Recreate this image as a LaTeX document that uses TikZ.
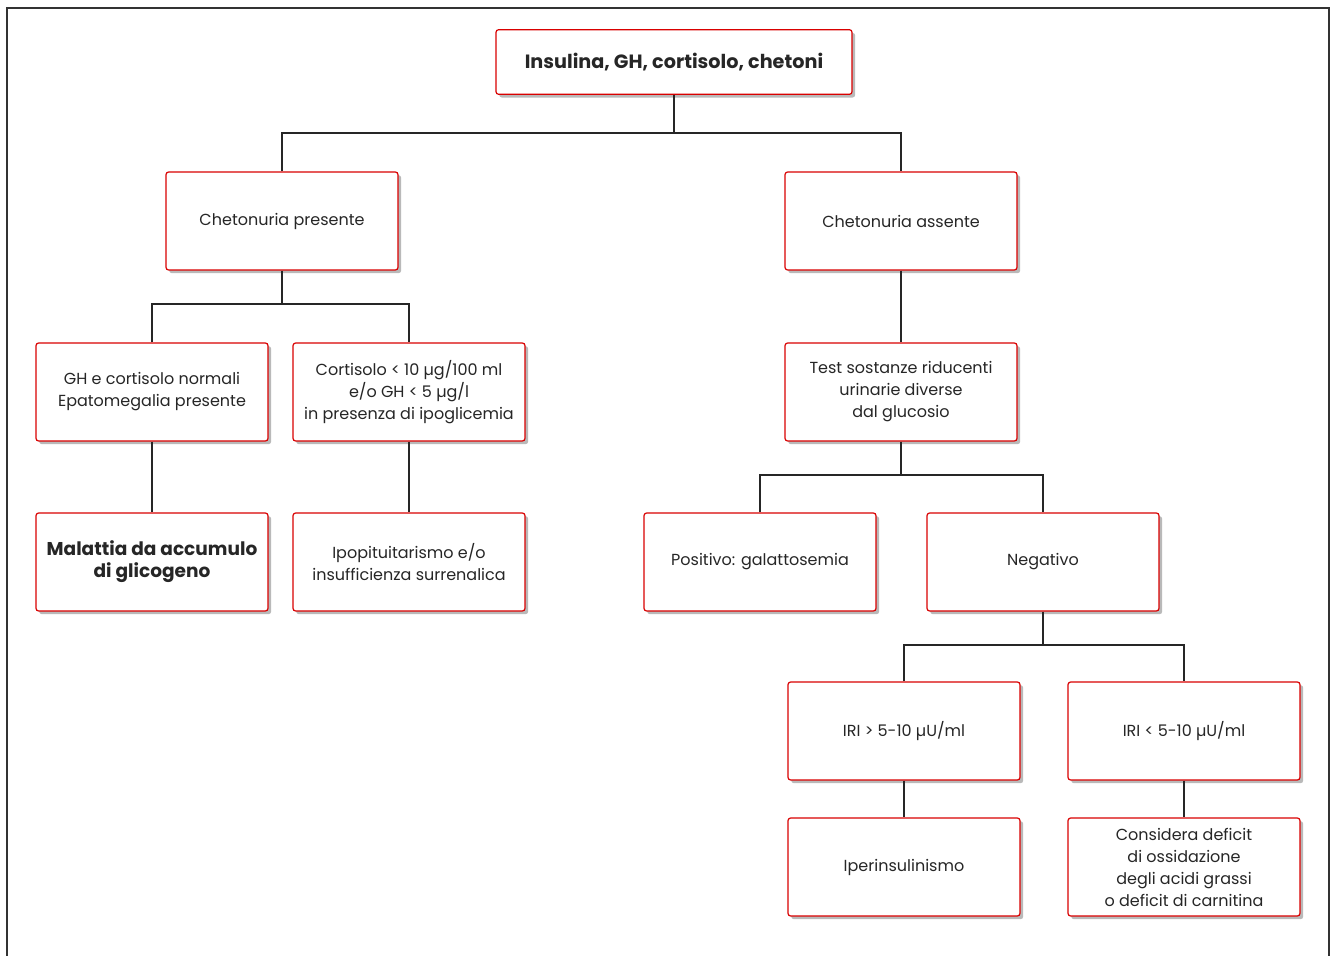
\documentclass[tikz,border=0pt]{standalone}
\usepackage{fontspec}
\setmainfont{Poppins}
\usetikzlibrary{shadows}
\begin{document}
\begin{tikzpicture}[x=0.75pt,y=-0.75pt,
  box/.style={draw=red!85!black, line width=0.9pt, fill=white, rounded corners=2pt,
    minimum width=174pt, minimum height=73.5pt, align=center, inner sep=2pt,
    font=\fontsize{12}{16.5}\selectfont, text=black!85,
    drop shadow={shadow xshift=2.4pt, shadow yshift=-2.4pt, fill=black!50, opacity=0.55}},
  topbox/.style={box, minimum width=267pt, minimum height=48.5pt, font=\fontsize{14.4}{16}\selectfont\bfseries},
  boldbox/.style={box, font=\fontsize{13.9}{16.5}\selectfont\bfseries},
  conn/.style={draw=black!85, line width=2.1pt}]
\useasboundingbox (0,0) rectangle (1335,956);
\draw[black!80, line width=1.1pt] (7,956) -- (7,8) -- (1329,8) -- (1329,956);
\node[topbox] (top) at (674,62) {Insulina, GH, cortisolo, chetoni};
\node[box] (cp) at (282,221) {Chetonuria presente};
\node[box] (ca) at (901,221) {Chetonuria assente};
\node[box] (gh) at (152,392) {GH e cortisolo normali\\Epatomegalia presente};
\node[box] (co) at (409,392) {Cortisolo < 10 µg/100 ml\\e/o GH < 5 µg/l\\in presenza di ipoglicemia};
\node[box] (te) at (901,392) {Test sostanze riducenti\\urinarie diverse\\dal glucosio};
\node[boldbox] (ma) at (152,562) {Malattia da accumulo\\di glicogeno};
\node[box] (ip) at (409,562) {Ipopituitarismo e/o\\insufficienza surrenalica};
\node[box] (po) at (760,562) {Positivo: galattosemia};
\node[box] (ne) at (1043,562) {Negativo};
\node[box] (ig) at (904,731) {IRI > 5-10 µU/ml};
\node[box] (il) at (1184,731) {IRI < 5-10 µU/ml};
\node[box] (pe) at (904,867) {Iperinsulinismo};
\node[box] (cd) at (1184,867) {Considera deficit\\di ossidazione\\degli acidi grassi\\o deficit di carnitina};
\coordinate (b1) at (674,133);
\coordinate (b2) at (282,304);
\coordinate (b3) at (901,475);
\coordinate (b4) at (1043,645);
\draw[conn] (top.south) -- (b1);
\draw[conn] (cp.north) |- (b1) -| (ca.north);
\draw[conn] (cp.south) -- (b2);
\draw[conn] (gh.north) |- (b2) -| (co.north);
\draw[conn] (ca.south) -- (te.north);
\draw[conn] (te.south) -- (b3);
\draw[conn] (po.north) |- (b3) -| (ne.north);
\draw[conn] (ne.south) -- (b4);
\draw[conn] (ig.north) |- (b4) -| (il.north);
\draw[conn] (gh.south) -- (ma.north);
\draw[conn] (co.south) -- (ip.north);
\draw[conn] (ig.south) -- (pe.north);
\draw[conn] (il.south) -- (cd.north);
\end{tikzpicture}
\end{document}
